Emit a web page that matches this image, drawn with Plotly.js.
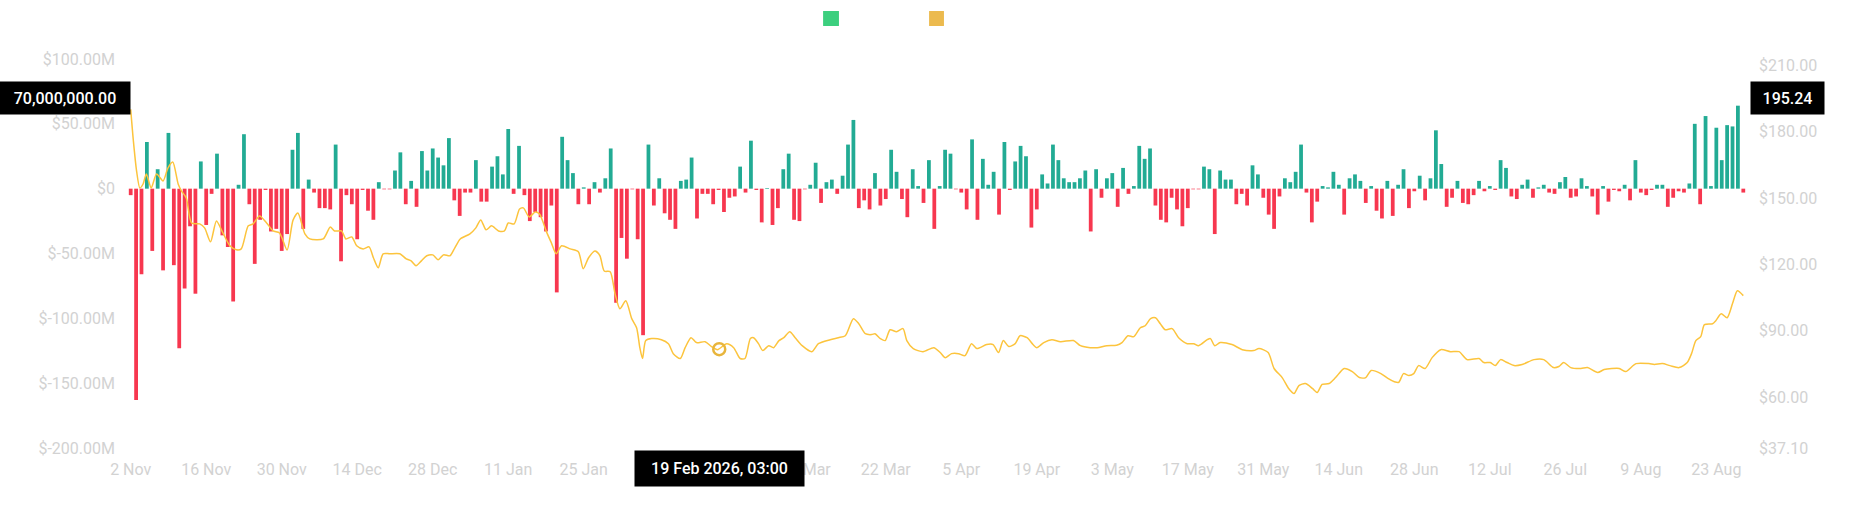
<!DOCTYPE html>
<html>
<head>
<meta charset="utf-8">
<script src="https://cdn.plot.ly/plotly-3.0.1.min.js"></script>
<style>
  html, body { margin: 0; padding: 0; background: #fff; }
  #chart { width: 1852px; height: 525px; }
</style>
</head>
<body>
<div id="chart"></div>
<script>
// daily net flow, first bar is 2 Nov 2025, values in $M
var START = '2025-11-02';
var netFlowM = [
  -5, -163, -66, 36, -48, 15, -63, 43, -59, -123,
  -77, -29, -81, 21, -28, -4, 27, -36, -45, -87,
  3, 42, -12, -58, -24, -1, -33, -31, -48, -35,
  30, 43, -31, 7, -3, -15, -15, -16, 34, -56,
  -5, -12, -39, -1, -17, -24, 5, -0.5, -0.5, 14,
  28, -12, 6, -14, 29, 14, 31, 24, 18, 39,
  -9, -21, -3, -3, 22, -10, -10, 17, 25, 11,
  46, -4, 33, -5, -25, -18, -22, -33, -13, -80,
  40, 22, 12, -12, 1, -12, 5, -3, 8, 31,
  -88, -38, -54, -0.5, -39, -113, 34, -13, 8, -19,
  -24, -31, 6, 7, 24, -23, -4, -4, -12, -1,
  -18, -7, -6, 17, -3, 37, -1, -26, 0.5, -28,
  -15, 15, 27, -24, -25, -0.5, 3, 20, -11, 5,
  7, -4, 10, 34, 53, -15, -9, -16, 12, -13,
  -8, 30, 13, -8, -22, 15, 2, -11, 22, -31,
  2, 30, 27, -0.5, -3, -16, 38, -24, 23, 3,
  13, -20, 36, -1, 21, 33, 25, -30, -16, 11,
  4, 34, 22, 8, 5, 5, 8, 14, -33, 15,
  -7, 8, 12, -14, 16, -4, 2, 33, 23, 31,
  -13, -24, -26, -7, -16, -29, -15, -0.5, -0.5, 17,
  15, -35, 14, 7, 7, -12, -4, -13, 18, 11,
  -7, -20, -31, -6, 8, 5, 13, 34, -3, -26,
  -10, 2, 1, 13, 3, -20, 8, 11, 6, -11,
  2, -17, -23, 6, -21, 3, 15, -15, -2, 10,
  -9, 8, 45, 19, -14, -7, 6, -11, -12, -5,
  6, -2, 2, -1, 22, 16, -6, -8, 3, 7,
  -7, 1, 3, -3, -4, 5, 9, -7, -6, 8,
  2, -6, -20, 2, -10, -1, -2, 3, -9, 22,
  -3, -5, -1, 3, 3, -14, -7, -2, -3, 4,
  50, -12, 56, 2, 47, 22, 49, 48, 64, -3
];

// price line, read at these day offsets from START
var priceDay = [
  0, 0.5, 1.1, 1.7, 2.3, 2.9, 3.8, 4.8, 6, 6.9,
  7.8, 8.8, 9.4, 10.3, 11.3, 12.8, 13.7, 14.8, 15.9, 17.1,
  18.4, 19.6, 20.5, 21.8, 22.7, 23.9, 25.2, 26.4, 27.6, 29,
  30.1, 31, 32.3, 33.2, 35.7, 37, 37.8, 39.1, 39.9, 41,
  41.9, 43.1, 44.2, 45, 45.9, 46.8, 48, 49.9, 51.1, 52,
  52.9, 53.9, 54.9, 56, 57, 58, 59.2, 60.1, 61.1, 62.9,
  64, 64.9, 65.9, 66.9, 68.2, 69.3, 70, 71.1, 72.1, 72.8,
  73.9, 75, 75.8, 77.1, 78, 78.9, 79.9, 81.5, 83, 83.9,
  84.9, 86.1, 87, 87.8, 88.9, 89.8, 90.7, 91.8, 92.9, 93.8,
  94.4, 94.9, 95.5, 96.6, 98.4, 99.7, 100.6, 101.9, 102.8, 103.9,
  104.9, 106.5, 107.7, 108.8, 110.5, 111.8, 113, 113.9, 114.9, 115.5,
  116.4, 117.2, 118.3, 119.2, 120.2, 121.1, 122.2, 123.2, 124.5, 126.3,
  127.5, 129.7, 131.2, 132.5, 134, 135, 136.2, 137.4, 138, 139,
  139.9, 140.8, 142, 143.2, 143.9, 145.1, 146.9, 148.9, 150.1, 151,
  152.2, 153.5, 154.7, 155.9, 156.9, 158.7, 159.9, 160.9, 161.8, 162.8,
  164, 164.9, 166.2, 167.3, 168, 169.3, 170.8, 172.4, 174.8, 176.1,
  177.9, 179.2, 181, 182.8, 183.8, 184.9, 186, 187.2, 188.1, 189.1,
  190, 190.9, 191.8, 193.1, 194.3, 195.9, 197.1, 198, 199.6, 200.2,
  201, 202, 204.2, 206.1, 208.2, 209.2, 210.9, 212, 213.5, 214.7,
  215.7, 216.6, 217.8, 219.1, 220, 220.9, 222.2, 223.4, 225, 226.5,
  227.8, 229, 230, 231.8, 233.1, 234.3, 235.1, 236, 237, 237.9,
  238.8, 240, 241.3, 242.9, 244.7, 246.3, 247.8, 250, 250.9, 252.1,
  253, 254, 255.2, 256.5, 258, 260.2, 262, 263.8, 264.8, 265.7,
  267, 268.9, 270.1, 272, 273.2, 276, 277.2, 279.1, 281.5, 282.5,
  284, 285.4, 287.1, 288.6, 289.4, 290.2, 291.1, 291.8, 293.3, 293.9,
  294.9, 296, 297, 297.9, 299
];
var priceUsd = [
  190, 175.7, 162, 154.5, 156.3, 160.8, 154.5, 160.8, 157.7, 163.5,
  166.2, 156.3, 153.2, 150, 138.7, 138.3, 136.5, 130.2, 139.6, 134.2,
  128.4, 126.6, 127, 137.4, 138.3, 141.9, 138.7, 135.1, 134.2, 126.5,
  140, 143.2, 133.8, 131.5, 131.5, 136.9, 135.1, 135.1, 131.5, 132.4,
  128.4, 127, 127.9, 123, 118.5, 124.8, 124.8, 124.8, 122.5, 121.6,
  119.4, 121.6, 123.9, 124.3, 122.1, 124.3, 123.9, 127.5, 131.5, 133.8,
  136.5, 140.1, 135.6, 137.4, 135.1, 135.1, 138.7, 138.3, 145, 145.5,
  141.4, 143.7, 142.8, 134.7, 129.7, 124.8, 128.4, 127, 125.7, 118,
  123, 126, 123.9, 117, 116.7, 106.8, 100, 103.6, 95.5, 91.4,
  82.4, 77.5, 85.6, 86.5, 86, 84.2, 79.7, 77.5, 82.4, 86.9,
  84.7, 85.1, 82.9, 81.5, 84.2, 82.4, 77.5, 77.5, 86.5, 86.9,
  84.2, 81.1, 83.3, 82.4, 85.6, 86.9, 89.6, 86.9, 83.3, 80.6,
  84.2, 86, 86.9, 87.8, 95.5, 93.2, 88.7, 88.3, 88.7, 86.5,
  85.6, 90.5, 89.6, 91, 85.6, 82, 80.6, 82.4, 80.2, 77.9,
  79.7, 79.7, 78.8, 84.2, 82, 83.8, 83.8, 80.2, 85.6, 82.9,
  84.2, 87.8, 86.9, 83.8, 82.4, 84.7, 86, 85.1, 85.6, 83.3,
  82.4, 82.4, 83.3, 83.5, 84.7, 87.8, 87.4, 91.4, 92.3, 95.5,
  95.9, 93.2, 90.5, 91, 86.9, 84.2, 84.2, 83.3, 86, 86.5,
  83.3, 84.7, 83.8, 81.5, 81.1, 82, 80.2, 73, 68.9, 64,
  61.7, 65.3, 66.2, 64, 62.2, 65.8, 66.2, 68.9, 73, 71.6,
  68.9, 68.9, 72.1, 70.7, 68.5, 67, 66.7, 70.7, 69.8, 70.7,
  74.3, 73, 77.9, 81.5, 80.6, 80.6, 77, 77.5, 75.7, 75.7,
  74.3, 77, 75.7, 74.3, 74.8, 77, 77, 73.4, 73.9, 75.7,
  73.4, 73, 73.4, 71.2, 72.5, 73, 71.6, 75.2, 75.2, 74.8,
  75.2, 74.3, 73.4, 75.7, 79.7, 85.6, 87.4, 92.8, 93.2, 94.6,
  97.7, 95.9, 102.3, 108.1, 105.9
];

// x ticks every two weeks; the two under the date read-out are hidden in the original
var tickDay = [0, 14, 28, 42, 56, 70, 84, 98, 112, 126, 140, 154, 168, 182, 196, 210, 224, 238, 252, 266, 280, 294];
var tickLabel = ['2 Nov', '16 Nov', '30 Nov', '14 Dec', '28 Dec', '11 Jan', '25 Jan', '', '',
  '8 Mar', '22 Mar', '5 Apr', '19 Apr', '3 May', '17 May', '31 May', '14 Jun', '28 Jun',
  '12 Jul', '26 Jul', '9 Aug', '23 Aug'];

// crosshair read-out
var hoverDate = '2026-02-19 03:00';
var hoverLabel = '19 Feb 2026, 03:00';
var hoverPrice = 81.7;
var crossFlow = 70e6;
var crossFlowLabel = '70,000,000.00';
var crossPrice = 195.24;

var leftTicks = [-200, -150, -100, -50, 0, 50, 100];
var rightTicks = [37.1, 60, 90, 120, 150, 180, 210];

var GREEN = '#22ab94', RED = '#f7374f', GOLD = '#fcc43d';
var DAY = 86400000;
var t0 = Date.parse(START + 'T00:00:00Z');

function toDate(offset) {
  return new Date(t0 + offset * DAY).toISOString().slice(0, 16).replace('T', ' ');
}

var flowDates = netFlowM.map(function (v, i) { return toDate(i); });

var bars = {
  type: 'bar',
  x: flowDates,
  y: netFlowM.map(function (v) { return v * 1e6; }),
  marker: { color: netFlowM.map(function (v) { return v >= 0 ? GREEN : RED; }), line: { width: 0 } },
  showlegend: false
};

var line = {
  type: 'scatter',
  mode: 'lines',
  x: priceDay.map(toDate),
  y: priceUsd,
  yaxis: 'y2',
  line: { color: GOLD, width: 1.5, shape: 'spline', smoothing: 0.7 },
  showlegend: false
};

var dot = {
  type: 'scatter',
  mode: 'markers',
  x: [hoverDate],
  y: [hoverPrice],
  yaxis: 'y2',
  marker: { symbol: 'circle-open', size: 12, color: '#e8b53c', line: { width: 2.5, color: '#e8b53c' } },
  showlegend: false
};

var tickFont = { family: 'Roboto, "Noto Sans", sans-serif', size: 16, color: '#d2d2d2' };
var boxFont = { family: 'Roboto, "Noto Sans", sans-serif', size: 16, color: '#ffffff', weight: 500 };

var layout = {
  width: 1852,
  height: 525,
  margin: { l: 128, r: 106, t: 52, b: 77, pad: 0 },
  paper_bgcolor: '#ffffff',
  plot_bgcolor: '#ffffff',
  bargap: 0.3,
  hovermode: false,
  showlegend: false,
  xaxis: {
    type: 'date',
    range: [toDate(-0.5), toDate(299.5)],
    tickvals: tickDay.map(toDate),
    ticktext: tickLabel,
    showgrid: false,
    zeroline: false,
    showline: false,
    ticks: '',
    ticklabelstandoff: 10,
    tickfont: tickFont
  },
  yaxis: {
    range: [-200e6, 105.4e6],
    tickvals: leftTicks.map(function (v) { return v * 1e6; }),
    ticktext: leftTicks.map(function (v) { return v === 0 ? '$0' : '$' + v.toFixed(2) + 'M'; }),
    showgrid: false,
    zeroline: false,
    showline: false,
    ticks: '',
    ticklabelstandoff: 12,
    tickfont: tickFont
  },
  yaxis2: {
    overlaying: 'y',
    side: 'right',
    range: [37.1, 215.9],
    tickvals: rightTicks,
    ticktext: rightTicks.map(function (v) { return '$' + v.toFixed(2); }),
    showgrid: false,
    zeroline: false,
    showline: false,
    ticks: '',
    ticklabelstandoff: 12,
    tickfont: tickFont
  },
  shapes: [
    { type: 'rect', xref: 'paper', yref: 'paper', x0: 0.4296, x1: 0.4394, y0: 1.0657, y1: 1.1035,
      fillcolor: '#3ccf7e', line: { width: 0 } },
    { type: 'rect', xref: 'paper', yref: 'paper', x0: 0.4951, x1: 0.5043, y0: 1.0657, y1: 1.1035,
      fillcolor: '#ecba4e', line: { width: 0 } }
  ],
  annotations: [
    { xref: 'paper', yref: 'y', x: 0, y: crossFlow, xanchor: 'right', xshift: 3,
      text: crossFlowLabel, showarrow: false, font: boxFont, bgcolor: '#000000',
      width: 124, height: 26, borderpad: 3 },
    { xref: 'paper', yref: 'y2', x: 1, y: crossPrice, xanchor: 'left', xshift: 4,
      text: crossPrice.toFixed(2), showarrow: false, font: boxFont, bgcolor: '#000000',
      width: 67, height: 26, borderpad: 3 },
    { xref: 'x', yref: 'paper', x: hoverDate, y: -0.053, yanchor: 'middle',
      text: hoverLabel, showarrow: false, font: boxFont, bgcolor: '#000000',
      width: 163, height: 29, borderpad: 3 }
  ]
};

Plotly.newPlot('chart', [bars, line, dot], layout, { displayModeBar: false, staticPlot: true });
</script>
</body>
</html>
